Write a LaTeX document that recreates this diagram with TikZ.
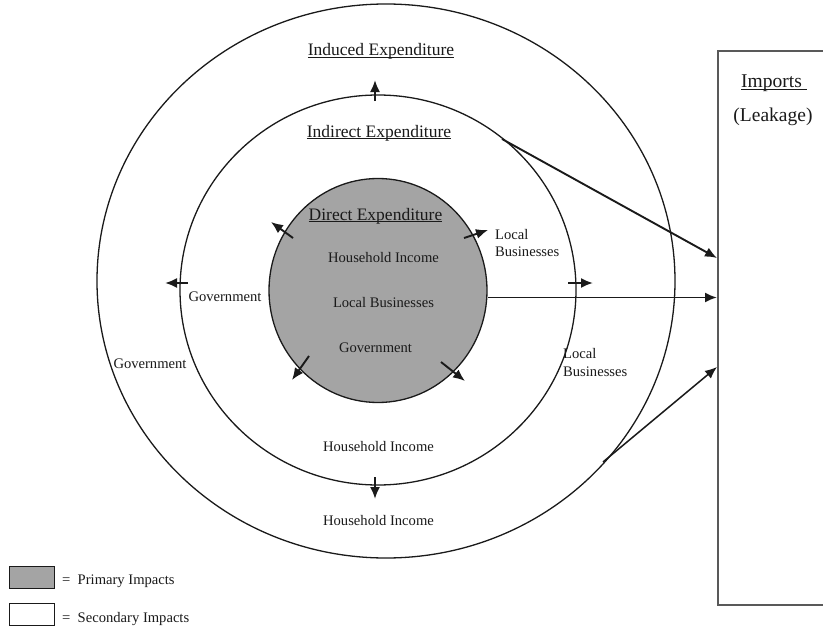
\documentclass[tikz,border=0pt]{standalone}
\usepackage{fontspec}
\setmainfont{Liberation Serif}
\usetikzlibrary{arrows.meta,shapes.geometric}
\newsavebox\ulbox
\newcommand\myul[1]{\sbox\ulbox{#1}\rlap{\rule[-2.2pt]{\wd\ulbox}{0.9pt}}\usebox\ulbox}
\definecolor{primgray}{HTML}{A4A4A4}
\definecolor{inkc}{HTML}{1A1A1A}
\begin{document}
\begin{tikzpicture}[x=1pt,y=-1pt,
  ring/.style={draw=inkc,line width=1.3pt,ellipse,inner sep=0pt},
  flow/.style={-{Latex[length=12pt,width=10pt]},line width=1.9pt,draw=inkc},
  lbl/.style={font=\fontsize{14.6}{17.5}\selectfont,inner sep=0pt,anchor=base,text=inkc},
  lbll/.style={lbl,anchor=base west,align=left},
  head/.style={font=\fontsize{17.5}{20}\selectfont,inner sep=0pt,anchor=base,text=inkc},
  big/.style={font=\fontsize{19.5}{22}\selectfont,inner sep=0pt,anchor=base,text=inkc},
  legbox/.style={draw=inkc,line width=1.2pt,minimum width=45pt,minimum height=22pt,inner sep=0pt,anchor=north west}]
\useasboundingbox (0,0) rectangle (823,629);
\clip (0,0) rectangle (823,629);
\fill[white] (0,0) rectangle (823,629);

% rings
\node[ring,minimum width=578pt,minimum height=554pt] (outer) at (386,281) {};
\node[ring,minimum width=396pt,minimum height=390pt] (middle) at (378,290) {};
\node[ring,fill=primgray,minimum width=218pt,minimum height=224pt] (inner) at (378,290.5) {};

% imports box
\node[draw=black!65,line width=1.7pt,minimum width=160pt,minimum height=554pt,anchor=north west,inner sep=0pt] (imports) at (717,50) {};

% headings
\node[head] (induced) at (381,56) {\myul{Induced Expenditure}};
\node[head] (indirect) at (379,137) {\myul{Indirect Expenditure}};
\node[head] (direct) at (375.5,220) {\myul{Direct Expenditure}};
\node[big] (imp) at (774,87.5) {\myul{Imports\ }};
\node[big] (leak) at (773,121.5) {(Leakage)};

% inner labels
\node[lbl] (hi1) at (383.5,262) {Household Income};
\node[lbl] (lb1) at (383.5,307) {Local Businesses};
\node[lbl] (gov1) at (375.5,352) {Government};

% middle ring labels
\node[lbl] (gov2) at (225,301) {Government};
\node[lbll] (lb2) at (495,256.5) {Local\\Businesses};
\node[lbl] (hi2) at (378.5,451) {Household Income};

% outer ring labels
\node[lbl] (gov3) at (150,368) {Government};
\node[lbll] (lb3) at (563,376) {Local\\Businesses};
\node[lbl] (hi3) at (378.5,525) {Household Income};

% arrow end points
\coordinate (a1s) at (375,101);   \coordinate (a1e) at (375,80);
\coordinate (a2s) at (293,238);   \coordinate (a2e) at (271,222);
\coordinate (a3s) at (464,238);   \coordinate (a3e) at (488,230);
\coordinate (a4s) at (188,283);   \coordinate (a4e) at (165,283);
\coordinate (a5s) at (568,283);   \coordinate (a5e) at (593,283);
\coordinate (a6s) at (309,356);   \coordinate (a6e) at (292,380);
\coordinate (a7s) at (441,362);   \coordinate (a7e) at (465,381);
\coordinate (a8s) at (375,477);   \coordinate (a8e) at (375,499);
\coordinate (l1s) at (502,139);   \coordinate (l1e) at (717,258);
\coordinate (l2s) at (488,297.5); \coordinate (l2e) at (717,297.5);
\coordinate (l3s) at (603,462);   \coordinate (l3e) at (717,367);

\draw[flow] (a1s) -- (a1e);
\draw[flow] (a2s) -- (a2e);
\draw[flow] (a3s) -- (a3e);
\draw[flow] (a4s) -- (a4e);
\draw[flow] (a5s) -- (a5e);
\draw[flow] (a6s) -- (a6e);
\draw[flow] (a7s) -- (a7e);
\draw[flow] (a8s) -- (a8e);
\draw[flow] (l1s) -- (l1e);
\draw[flow] (l2s) -- (l2e);
\draw[flow,line width=1.5pt] (l3s) -- (l3e);

% legend
\node[legbox,fill=primgray] (legp) at (8.5,566) {};
\node[legbox,fill=white] (legs) at (8.5,603) {};
\node[lbll] (legpt) at (62,584) {=\ \ Primary Impacts};
\node[lbll] (legst) at (62,622.5) {=\ \ Secondary Impacts};
\end{tikzpicture}
\end{document}
